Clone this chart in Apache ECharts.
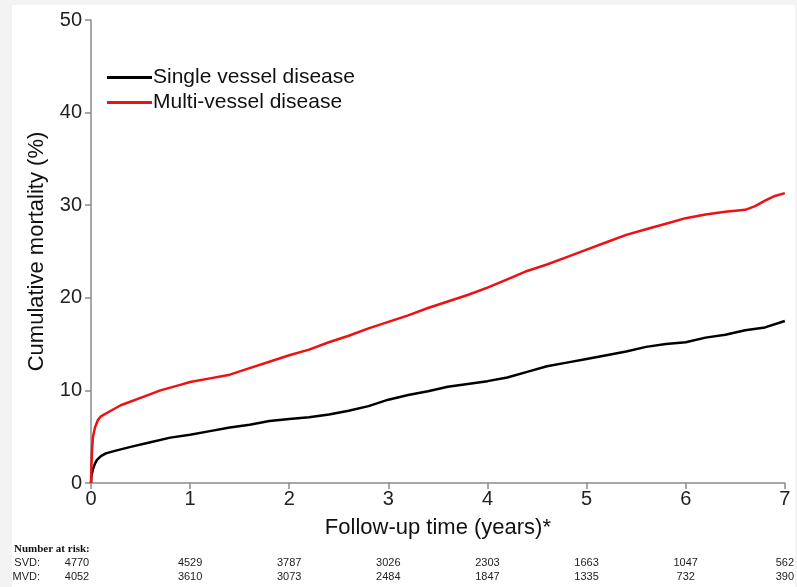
<!DOCTYPE html>
<html>
<head>
<meta charset="utf-8">
<script src="https://cdn.jsdelivr.net/npm/echarts@6/dist/echarts.min.js"></script>
<style>
  html, body { margin: 0; padding: 0; background: #f3f3f3; }
  #chart { position: absolute; left: 0; top: 0; width: 797px; height: 587px; }
</style>
</head>
<body>
<div id="chart"></div>
<script>
// Follow-up time (years) and cumulative mortality (%) for each group
const svdTime = [0, 0.005, 0.02, 0.04, 0.06, 0.1, 0.15, 0.25, 0.4, 0.6, 0.8, 1.0, 1.2, 1.4, 1.6, 1.8, 2.0, 2.2, 2.4, 2.6, 2.8, 3.0, 3.2, 3.4, 3.6, 3.8, 4.0, 4.2, 4.4, 4.6, 4.8, 5.0, 5.2, 5.4, 5.6, 5.8, 6.0, 6.2, 6.4, 6.6, 6.8, 7.0];
const svdMort = [0, 0.8, 1.5, 2.1, 2.5, 2.9, 3.2, 3.5, 3.9, 4.4, 4.9, 5.2, 5.6, 6.0, 6.3, 6.7, 6.9, 7.1, 7.4, 7.8, 8.3, 9.0, 9.5, 9.9, 10.4, 10.7, 11.0, 11.4, 12.0, 12.6, 13.0, 13.4, 13.8, 14.2, 14.7, 15.0, 15.2, 15.7, 16.0, 16.5, 16.8, 17.5];

const mvdTime = [0, 0.005, 0.01, 0.02, 0.04, 0.07, 0.1, 0.2, 0.3, 0.5, 0.7, 0.9, 1.0, 1.2, 1.4, 1.6, 1.8, 2.0, 2.2, 2.4, 2.6, 2.8, 3.0, 3.2, 3.4, 3.6, 3.8, 4.0, 4.2, 4.4, 4.6, 4.8, 5.0, 5.2, 5.4, 5.6, 5.8, 6.0, 6.2, 6.4, 6.6, 6.7, 6.8, 6.9, 7.0];
const mvdMort = [0, 2.0, 3.5, 5.0, 6.0, 6.8, 7.2, 7.8, 8.4, 9.2, 10.0, 10.6, 10.9, 11.3, 11.7, 12.4, 13.1, 13.8, 14.4, 15.2, 15.9, 16.7, 17.4, 18.1, 18.9, 19.6, 20.3, 21.1, 22.0, 22.9, 23.6, 24.4, 25.2, 26.0, 26.8, 27.4, 28.0, 28.6, 29.0, 29.3, 29.5, 29.9, 30.5, 31.0, 31.3];

// Number at risk at each whole year 0..7
const svdAtRisk = ['4770', '4529', '3787', '3026', '2303', '1663', '1047', '562'];
const mvdAtRisk = ['4052', '3610', '3073', '2484', '1847', '1335', '732', '390'];

const seriesNames = ['Single vessel disease', 'Multi-vessel disease'];
const seriesColors = ['#000000', '#ee1111'];

const sans = 'Liberation Sans, Arial, Helvetica, sans-serif';
const zip = (t, v) => t.map((x, i) => [x, v[i]]);

const riskAxis = (labels, name, offset) => ({
  type: 'value',
  gridIndex: 0,
  position: 'bottom',
  min: 0, max: 7, interval: 1,
  offset: offset,
  name: name,
  nameLocation: 'start',
  nameGap: 51,
  nameTextStyle: { fontFamily: sans, fontSize: 11, color: '#222', verticalAlign: 'top' },
  axisLine: { show: false },
  axisTick: { show: false },
  splitLine: { show: false },
  axisLabel: {
    margin: 0,
    fontFamily: sans,
    fontSize: 11,
    color: '#222',
    formatter: v => {
      const i = Math.round(v);
      return i === 0 ? '{first|' + labels[i] + '}' : labels[i];
    },
    rich: { first: { fontFamily: sans, fontSize: 11, color: '#222', padding: [0, 28, 0, 0] } }
  }
});

const chart = echarts.init(document.getElementById('chart'), null, { renderer: 'canvas' });

chart.setOption({
  backgroundColor: '#f3f3f3',
  animation: false,
  graphic: [{
    type: 'rect', z: -10, silent: true,
    shape: { x: 12, y: 5, width: 783, height: 582 },
    style: { fill: '#ffffff' }
  }],
  title: {
    text: 'Number at risk:',
    left: 9, top: 539,
    textStyle: { fontFamily: 'Liberation Serif, Times New Roman, serif', fontWeight: 'bold', fontSize: 11, color: '#111' }
  },
  legend: {
    orient: 'vertical',
    left: 102, top: 62,
    icon: 'rect',
    itemWidth: 45, itemHeight: 3, itemGap: 4,
    textStyle: { fontFamily: sans, fontSize: 21, color: '#111', padding: [0, 0, 0, -4] },
    data: seriesNames
  },
  grid: { left: 91, right: 10, top: 20, bottom: 104, containLabel: false },
  xAxis: [{
    type: 'value',
    min: 0, max: 7, interval: 1,
    name: 'Follow-up time (years)*',
    nameLocation: 'middle',
    nameGap: 34,
    nameTextStyle: { fontFamily: sans, fontSize: 22, color: '#111' },
    axisLine: { show: true, lineStyle: { color: '#8a8a8a', width: 1.5 } },
    axisTick: { show: true, length: 6, inside: false, lineStyle: { color: '#8a8a8a', width: 1.5 } },
    splitLine: { show: false },
    axisLabel: { margin: 6, fontFamily: sans, fontSize: 20, color: '#222' }
  },
  riskAxis(svdAtRisk, 'SVD:', 74),
  riskAxis(mvdAtRisk, 'MVD:', 88)],
  yAxis: {
    type: 'value',
    min: 0, max: 50, interval: 10,
    name: 'Cumulative mortality (%)',
    nameLocation: 'middle',
    nameGap: 43,
    nameTextStyle: { fontFamily: sans, fontSize: 22, color: '#111' },
    axisLine: { show: true, lineStyle: { color: '#8a8a8a', width: 1.5 } },
    axisTick: { show: true, length: 6, inside: false, lineStyle: { color: '#8a8a8a', width: 1.5 } },
    splitLine: { show: false },
    axisLabel: { margin: 9, fontFamily: sans, fontSize: 20, color: '#222' }
  },
  series: [
    {
      name: seriesNames[0], type: 'line', xAxisIndex: 0,
      data: zip(svdTime, svdMort),
      symbol: 'none', smooth: false,
      color: seriesColors[0],
      lineStyle: { color: seriesColors[0], width: 2.5 }
    },
    {
      name: seriesNames[1], type: 'line', xAxisIndex: 0,
      data: zip(mvdTime, mvdMort),
      symbol: 'none', smooth: false,
      color: seriesColors[1],
      lineStyle: { color: seriesColors[1], width: 2.5 }
    }
  ]
});
</script>
</body>
</html>
